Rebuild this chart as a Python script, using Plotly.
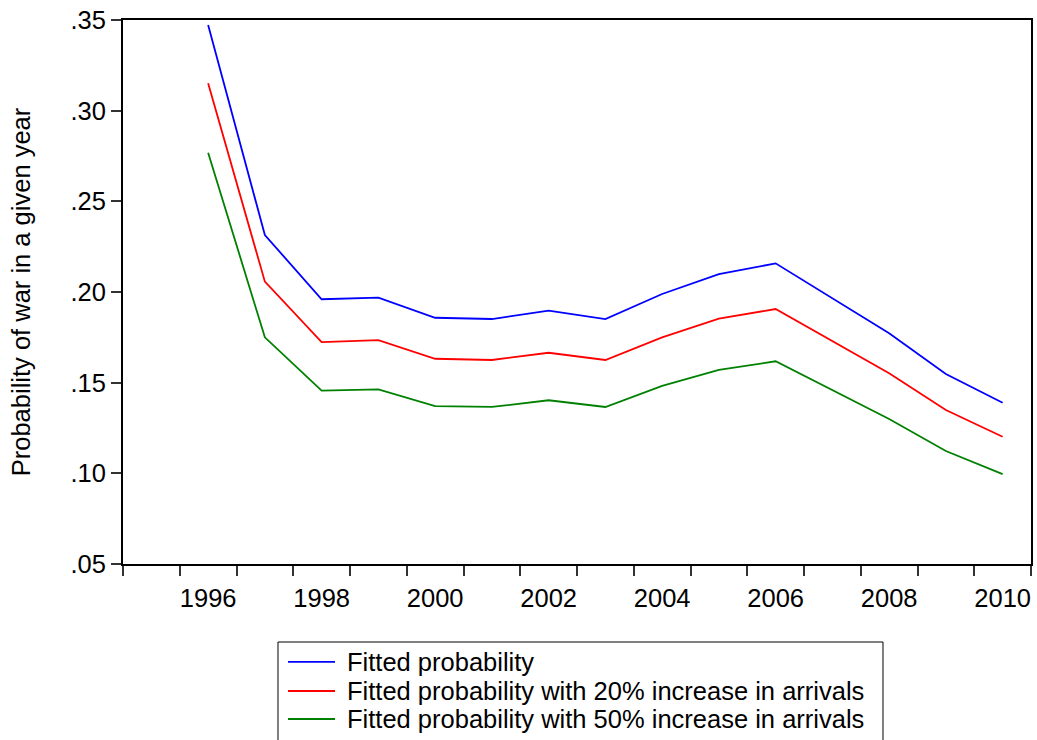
import plotly.graph_objects as go

years = [1996, 1997, 1998, 1999, 2000, 2001, 2002, 2003, 2004, 2005, 2006, 2007, 2008, 2009, 2010]
fitted = [0.3472, 0.2314, 0.1960, 0.1969, 0.1858, 0.1851, 0.1897, 0.1851, 0.1989, 0.2098, 0.2158, 0.1965, 0.1772, 0.1548, 0.1389]
fitted_20 = [0.3151, 0.2057, 0.1724, 0.1735, 0.1632, 0.1625, 0.1665, 0.1625, 0.1750, 0.1853, 0.1906, 0.1730, 0.1552, 0.1349, 0.1202]
fitted_50 = [0.2768, 0.1750, 0.1456, 0.1463, 0.1371, 0.1366, 0.1403, 0.1366, 0.1482, 0.1570, 0.1618, 0.1458, 0.1300, 0.1123, 0.0996]

series_names = ["Fitted probability",
                "Fitted probability with 20% increase in arrivals",
                "Fitted probability with 50% increase in arrivals"]
series_colors = ["#0000FF", "#FF0000", "#008000"]

x_tick_years = [1996, 1998, 2000, 2002, 2004, 2006, 2008, 2010]
y_tick_vals = [0.05, 0.10, 0.15, 0.20, 0.25, 0.30, 0.35]
y_tick_text = [".05", ".10", ".15", ".20", ".25", ".30", ".35"]

FONT = "Liberation Sans, Arial, sans-serif"
FS = 25.5

fig = go.Figure()
for name, vals, col in zip(series_names, [fitted, fitted_20, fitted_50], series_colors):
    fig.add_trace(go.Scatter(x=years, y=vals, mode="lines", name=name,
                             line=dict(color=col, width=1.8), showlegend=False))

# Legend drawn as a boxed key below the plot (paper coordinates)
box_x0, box_x1, box_y0, box_y1 = 0.1707, 0.8370, -0.3272, -0.1434
line_x0, line_x1, text_x = 0.1817, 0.2335, 0.2445
row_y = [-0.1801, -0.2335, -0.2849]

shapes = [dict(type="rect", xref="paper", yref="paper",
               x0=box_x0, x1=box_x1, y0=box_y0, y1=box_y1,
               line=dict(color="black", width=1), fillcolor="white", layer="above")]
annotations = []
for name, col, ry in zip(series_names, series_colors, row_y):
    shapes.append(dict(type="line", xref="paper", yref="paper",
                       x0=line_x0, x1=line_x1, y0=ry, y1=ry,
                       line=dict(color=col, width=1.8)))
    annotations.append(dict(xref="paper", yref="paper", x=text_x, y=ry,
                            text=name, showarrow=False, xanchor="left", yanchor="middle",
                            font=dict(family=FONT, size=FS, color="black")))

fig.update_layout(
    width=1037, height=740,
    margin=dict(l=123, r=6, t=20, b=176, autoexpand=False),
    paper_bgcolor="white", plot_bgcolor="white",
    font=dict(family=FONT, size=FS, color="black"),
    showlegend=False,
    shapes=shapes, annotations=annotations,
)
fig.update_xaxes(
    range=[1994.5, 2010.5], showgrid=False, zeroline=False, automargin=False,
    showline=True, linecolor="black", linewidth=2, mirror=True,
    tickmode="array", tickvals=x_tick_years, ticktext=[str(y) for y in x_tick_years],
    ticks="outside", ticklen=10, tickcolor="rgba(0,0,0,0)",
    ticklabeloverflow="allow",
    tickfont=dict(family=FONT, size=FS, color="black"),
    minor=dict(tick0=1994.5, dtick=1, ticks="outside", ticklen=10,
               tickcolor="#333333", tickwidth=1.5, showgrid=False),
)
fig.update_yaxes(
    range=[0.05, 0.35], showgrid=False, zeroline=False, automargin=False,
    showline=True, linecolor="black", linewidth=2, mirror=True,
    tickmode="array", tickvals=y_tick_vals, ticktext=y_tick_text,
    ticks="outside", ticklen=10, tickcolor="#333333", tickwidth=1.5,
    ticklabeloverflow="allow",
    tickfont=dict(family=FONT, size=FS, color="black"),
    title=dict(text="Probability of war in a given year",
               font=dict(family=FONT, size=FS, color="black"), standoff=33),
)

fig.write_html("out.html", config={"displayModeBar": False},
               post_script="document.body.style.margin='0';document.body.style.overflow='hidden';")
